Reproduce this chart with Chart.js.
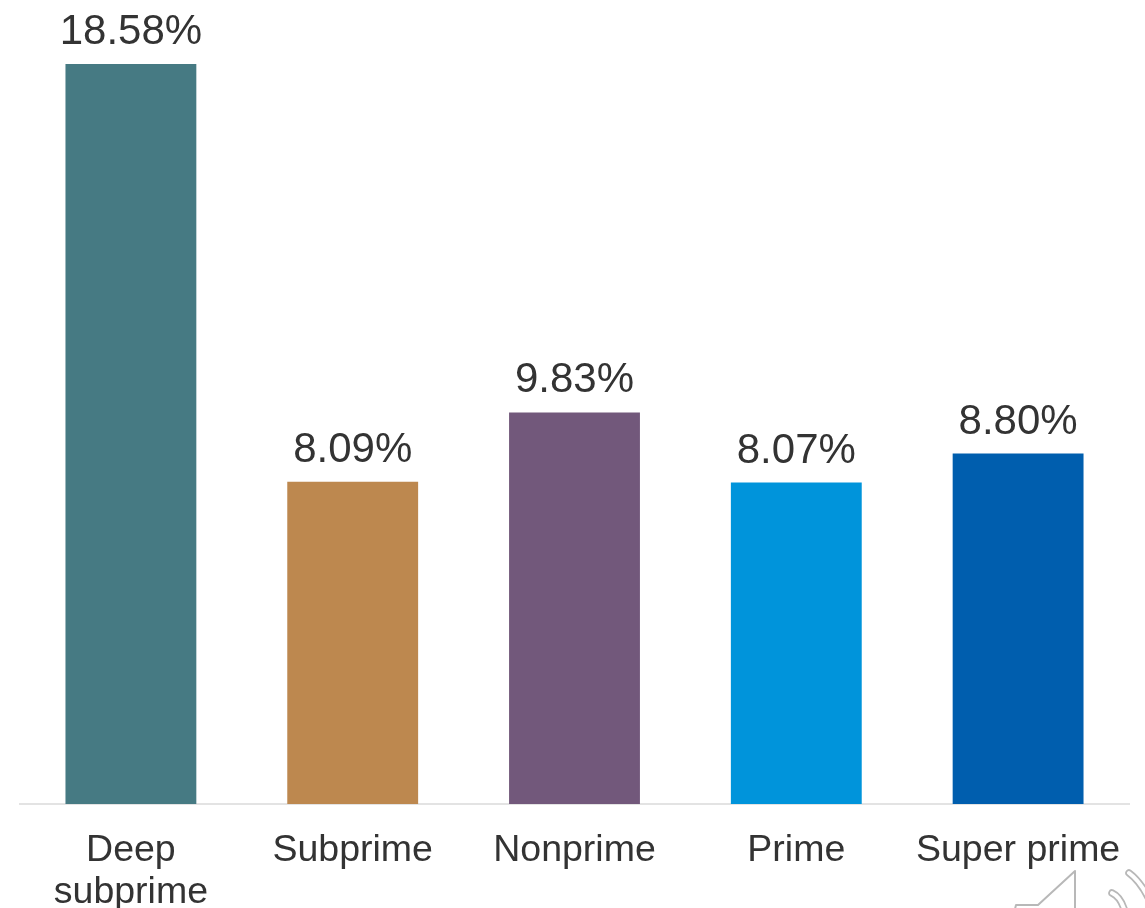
<!DOCTYPE html>
<html>
<head>
<meta charset="utf-8">
<style>
html,body{margin:0;padding:0;background:#fff;overflow:hidden}
#wrap{position:absolute;left:0;top:0;width:1145px;height:908px}
</style>
<script src="https://cdn.jsdelivr.net/npm/chart.js@4"></script>
</head>
<body>
<div id="wrap"><canvas id="c" width="1145" height="908"></canvas></div>
<script>
const categories = [["Deep","subprime"],"Subprime","Nonprime","Prime","Super prime"];
const rates = [18.58,8.09,9.83,8.07,8.80];
const barColors = ["#467a83","#bd884f","#72587b","#0094db","#005eae"];
const FONT = '"Liberation Sans", Arial, sans-serif';

// Writes each rate above its bar
const valueLabels = {
  id:"valueLabels",
  afterDatasetsDraw(chart){
    const {ctx} = chart;
    const meta = chart.getDatasetMeta(0);
    ctx.save();
    ctx.font = "42px "+FONT;
    ctx.fillStyle = "#333333";
    ctx.textAlign = "center";
    ctx.textBaseline = "alphabetic";
    meta.data.forEach((bar,i)=>{
      ctx.fillText(rates[i].toFixed(2)+"%", bar.x, bar.y-20);
    });
    ctx.restore();
  }
};

// Small audio badge in the lower right corner
const speakerBadge = {
  id:"speakerBadge",
  afterDraw(chart){
    const {ctx} = chart;
    ctx.save();
    ctx.lineJoin = "round";
    ctx.strokeStyle = "#b8b8b8";
    ctx.lineWidth = 2;
    ctx.beginPath();
    ctx.moveTo(1015,909);
    ctx.lineTo(1016,905);
    ctx.lineTo(1038,905);
    ctx.lineTo(1075,871);
    ctx.lineTo(1075,909);
    ctx.stroke();
    // Sound waves: a grey band with a white core leaves a hollow outline
    ctx.lineCap = "round";
    [[1112,893,1121,897,1125,912],[1129,873,1140,881,1149,899]].forEach(w=>{
      [["#b8b8b8",7.5],["#ffffff",4]].forEach(([color,width])=>{
        ctx.strokeStyle = color;
        ctx.lineWidth = width;
        ctx.beginPath();
        ctx.moveTo(w[0],w[1]);
        ctx.quadraticCurveTo(w[2],w[3],w[4],w[5]);
        ctx.stroke();
      });
    });
    ctx.restore();
  }
};

new Chart(document.getElementById("c"),{
  type:"bar",
  data:{labels:categories,datasets:[{data:rates,backgroundColor:barColors,barPercentage:1,categoryPercentage:0.59}]},
  options:{
    responsive:false,
    animation:false,
    layout:{padding:{left:20,right:16,top:64,bottom:0}},
    plugins:{legend:{display:false},tooltip:{enabled:false}},
    scales:{
      x:{
        // Fixed band for the labels; the wide last label must not narrow the plot
        afterFit(axis){ axis.height = 104; axis.paddingLeft = 0; axis.paddingRight = 0; },
        grid:{display:false,drawTicks:false},
        border:{color:"#e3e3e3",width:2},
        ticks:{color:"#333333",font:{family:FONT,size:37.5,lineHeight:1.12},padding:26,maxRotation:0,autoSkip:false}
      },
      y:{display:false,min:0,max:18.58}
    }
  },
  plugins:[valueLabels,speakerBadge]
});
</script>
</body>
</html>
